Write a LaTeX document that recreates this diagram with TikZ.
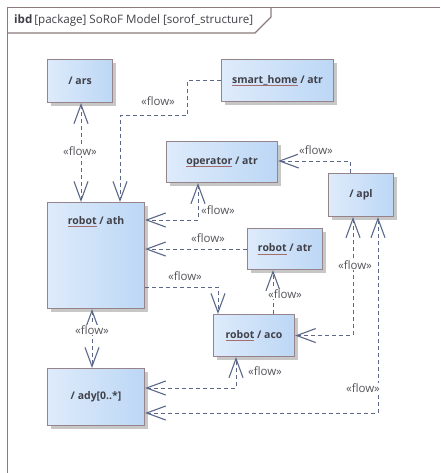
\documentclass[tikz,border=0pt]{standalone}
\usepackage{fontspec}
\setmainfont{Open Sans}
\usetikzlibrary{arrows.meta,shadows}

\definecolor{framecol}{RGB}{140,124,124}
\definecolor{partedge}{RGB}{150,132,138}
\definecolor{partleft}{RGB}{222,235,251}
\definecolor{partright}{RGB}{188,215,245}
\definecolor{parttext}{RGB}{64,64,72}
\definecolor{ulred}{RGB}{165,110,110}
\definecolor{flowcol}{RGB}{92,104,138}
\definecolor{flowtext}{RGB}{85,85,92}

% underlined part name (instance of a block)
\newcommand{\ulpart}[1]{\sbox0{#1}\rlap{\textcolor{ulred}{\rule[-2.8pt]{\wd0}{0.9pt}}}\usebox0}

\tikzset{
  part/.style={draw=partedge, line width=1.1pt, rectangle,
    left color=partleft, right color=partright,
    drop shadow={shadow xshift=3pt, shadow yshift=-3pt, fill=black!22, opacity=1},
    text=parttext, font=\fontsize{10.5}{12}\selectfont\bfseries,
    anchor=north west, inner sep=0pt},
  flow/.style={draw=flowcol, line width=1pt, dash pattern=on 4pt off 3pt,
    arrows={-Straight Barb[length=19pt,width=14pt,line width=1.1pt]}},
  flowboth/.style={flow,
    arrows={Straight Barb[length=19pt,width=14pt,line width=1.1pt]-Straight Barb[length=19pt,width=14pt,line width=1.1pt]}},
  flowlabel/.style={fill=white, inner sep=1pt, text=flowtext,
    font=\fontsize{11.5}{13}\selectfont},
}

\begin{document}
\begin{tikzpicture}[x=1pt,y=-1pt]
  \useasboundingbox[fill=white] (0,0) rectangle (440,473);

  % diagram frame with its name tab
  \draw[framecol, line width=1.6pt] (440,7.5) -- (7.5,7.5) -- (7.5,473);
  \draw[framecol, line width=1.2pt] (7.5,33) -- (255,33) -- (271,17) -- (271,7.5);
  \node[anchor=west, inner sep=0pt, text=parttext, font=\fontsize{11.6}{13}\selectfont] (title) at (14,20)
    {\textbf{ibd}\,[package] SoRoF Model [sorof\_structure]};

  % parts
  \node[part, minimum width=65pt, minimum height=43pt] (ars) at (47,59) {/ ars};
  \node[part, minimum width=112pt, minimum height=42pt] (smart) at (221,59) {\ulpart{smart\_home} / atr};
  \node[part, minimum width=111pt, minimum height=41pt] (op) at (166,141) {\ulpart{operator} / atr};
  \node[part, minimum width=65pt, minimum height=43pt] (apl) at (328,173) {/ apl};
  \node[part, minimum width=97pt, minimum height=106pt,
    label={[anchor=north, inner sep=0pt, yshift=-14pt, text=parttext,
      font=\fontsize{10.5}{12}\selectfont\bfseries]north:{\ulpart{robot} / ath}}] (ath) at (47,202) {};
  \node[part, minimum width=75pt, minimum height=41pt] (ratr) at (247,228) {\ulpart{robot} / atr};
  \node[part, minimum width=81pt, minimum height=42pt] (aco) at (213,314) {\ulpart{robot} / aco};
  \node[part, minimum width=97pt, minimum height=57pt] (ady) at (47,368) {/ ady[0..*]};

  % bend points of the item flows
  \coordinate (b1) at (81,0);
  \coordinate (b2a) at (187,116);
  \coordinate (b2b) at (120,0);
  \coordinate (b3) at (198,220);
  \coordinate (b5) at (218,287);
  \coordinate (b6) at (273,0);
  \coordinate (b7) at (350,161);
  \coordinate (b8) at (353,0);
  \coordinate (b9) at (378,413);
  \coordinate (b10) at (236,388);
  \coordinate (b11) at (92,0);

  % item flows
  \draw[flowboth] (ars.south -| b1) -- (ath.north -| b1);
  \draw[flow] (smart.west) -| (b2a) -| (ath.north -| b2b);
  \draw[flowboth] (op.south -| b3) |- (ath.east |- b3);
  \draw[flow] (ratr.west) -- (ratr.west -| ath.east);
  \draw[flow] (ath.east |- b5) -| (aco.north -| b5);
  \draw[flow] (aco.north -| b6) -- (ratr.south -| b6);
  \draw[flow] (apl.north -| b7) |- (op.east |- b7);
  \draw[flowboth] (aco.east) -| (apl.south -| b8);
  \draw[flowboth] (ady.east |- b9) -| (apl.south -| b9);
  \draw[flowboth] (ady.east |- b10) -| (aco.south -| b10);
  \draw[flowboth] (ath.south -| b11) -- (ady.north -| b11);

  % flow stereotypes
  \node[flowlabel] (f1) at (80,151) {«flow»};
  \node[flowlabel] (f2) at (158,101) {«flow»};
  \node[flowlabel] (f3) at (218,210) {«flow»};
  \node[flowlabel] (f4) at (208,238) {«flow»};
  \node[flowlabel] (f5) at (185,276) {«flow»};
  \node[flowlabel] (f6) at (285,294) {«flow»};
  \node[flowlabel] (f7) at (316,150) {«flow»};
  \node[flowlabel] (f8) at (355,265) {«flow»};
  \node[flowlabel] (f9) at (363,388) {«flow»};
  \node[flowlabel] (f10) at (265,371) {«flow»};
  \node[flowlabel] (f11) at (92,330) {«flow»};
\end{tikzpicture}
\end{document}
